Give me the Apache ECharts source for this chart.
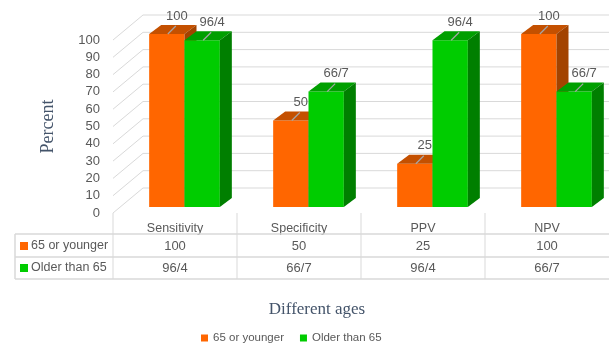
<!DOCTYPE html>
<html>
<head>
<meta charset="utf-8">
<script src="https://cdn.jsdelivr.net/npm/echarts@6/dist/echarts.min.js"></script>
<style>
  html, body { margin: 0; padding: 0; background: #fff; }
  #chart { width: 609px; height: 343px; }
</style>
</head>
<body>
<div id="chart"></div>
<script>
const categories = ['Sensitivity', 'Specificity', 'PPV', 'NPV'];
const seriesNames = ['65 or younger', 'Older than 65'];
const youngValues = [100, 50, 25, 100];
const olderValues = [96.4, 66.7, 96.4, 66.7];
const yTicks = [0, 10, 20, 30, 40, 50, 60, 70, 80, 90, 100];

const FONT = '"Liberation Sans", Arial, sans-serif';
const SERIF = '"Liberation Serif", "Times New Roman", serif';
const TEXT = '#595959';
const GRID = '#D9D9D9';

// colours: front, top, side
const palette = [
  ['#FF6600', '#C45000', '#A34300'],
  ['#00CC00', '#009F00', '#007F00']
];

// depth offsets (pixels)
const WALL_DX = 30, WALL_DY = -25;   // back wall
const BAR_DX = 9.5, BAR_DY = -6;     // bar front face relative to floor front
const DEPTH_DX = 12, DEPTH_DY = -9;  // bar depth

// persian-style decimal separator
const fmt = v => String(v).replace('.', '/');

const chart = echarts.init(document.getElementById('chart'), null, { renderer: 'canvas' });

function barRenderer(idx) {
  return function (params, api) {
    const i = api.value(0), v = api.value(1);
    const base = api.coord([i, 0]);
    const top = api.coord([i, v]);
    const band = api.size([1, 0])[0];
    const bw = band * 0.285;
    const cx = base[0] + BAR_DX;
    const x0 = cx - bw + idx * bw;
    const yb = base[1] + BAR_DY, yt = top[1] + BAR_DY;
    const c = palette[idx];
    const mid = x0 + bw / 2;
    return {
      type: 'group',
      children: [
        { type: 'rect', shape: { x: x0, y: yt, width: bw, height: yb - yt }, style: { fill: c[0] } },
        { type: 'polygon', shape: { points: [[x0, yt], [x0 + bw, yt], [x0 + bw + DEPTH_DX, yt + DEPTH_DY], [x0 + DEPTH_DX, yt + DEPTH_DY]] }, style: { fill: c[1] } },
        { type: 'polygon', shape: { points: [[x0 + bw, yt], [x0 + bw + DEPTH_DX, yt + DEPTH_DY], [x0 + bw + DEPTH_DX, yb + DEPTH_DY], [x0 + bw, yb]] }, style: { fill: c[2] } },
        { type: 'line', shape: { x1: mid + 1, y1: yt, x2: mid + 9, y2: yt - 8 }, style: { stroke: '#A6A6A6', lineWidth: 1.2 } },
        { type: 'text', x: mid + 10, y: yt - 18, style: { text: fmt(v), fill: TEXT, font: '13px ' + FONT, align: 'center', verticalAlign: 'middle' } }
      ]
    };
  };
}

function gridRenderer(params, api) {
  const cs = params.coordSys;
  const p = api.coord([0, api.value(0)]);
  const y = p[1];
  return {
    type: 'polyline',
    shape: { points: [[cs.x, y], [cs.x + WALL_DX, y + WALL_DY], [cs.x + cs.width, y + WALL_DY]] },
    style: { stroke: GRID, lineWidth: 1, fill: null }
  };
}

function tableRenderer(params, api) {
  const cs = params.coordSys;
  const i = api.value(0);
  const base = api.coord([i, 0]);
  const band = api.size([1, 0])[0];
  const left = base[0] - band / 2;
  const y0 = base[1];
  const children = [
    { type: 'line', shape: { x1: left, y1: y0, x2: left, y2: y0 + 66 }, style: { stroke: GRID, lineWidth: 1 } },
    { type: 'text', x: base[0], y: y0 + 33, style: { text: fmt(youngValues[i]), fill: TEXT, font: '13px ' + FONT, align: 'center', verticalAlign: 'middle' } },
    { type: 'text', x: base[0], y: y0 + 55, style: { text: fmt(olderValues[i]), fill: TEXT, font: '13px ' + FONT, align: 'center', verticalAlign: 'middle' } }
  ];
  if (i === 0) {
    const tl = 15;
    [21, 44, 66].forEach(dy => children.push({ type: 'line', shape: { x1: tl, y1: y0 + dy, x2: cs.x + cs.width, y2: y0 + dy }, style: { stroke: GRID, lineWidth: 1.5 } }));
    children.push({ type: 'line', shape: { x1: tl, y1: y0 + 21, x2: tl, y2: y0 + 66 }, style: { stroke: GRID, lineWidth: 1.5 } });
    seriesNames.forEach((name, k) => {
      const yy = y0 + 33 + k * 22;
      children.push({ type: 'rect', shape: { x: 20, y: yy - 4, width: 8, height: 8 }, style: { fill: palette[k][0] } });
      children.push({ type: 'text', x: 31, y: yy, style: { text: name, fill: TEXT, font: '12.5px ' + FONT, align: 'left', verticalAlign: 'middle' } });
    });
  }
  return { type: 'group', children };
}

const option = {
  backgroundColor: '#fff',
  animation: false,
  grid: { left: 113, right: -2, top: 40, bottom: 130, containLabel: false },
  xAxis: {
    type: 'category',
    data: categories,
    axisLine: { show: false },
    axisTick: { show: false },
    splitLine: { show: false },
    axisLabel: { color: TEXT, fontSize: 12.5, fontFamily: FONT, margin: 9 }
  },
  yAxis: {
    type: 'value',
    min: 0,
    max: 100,
    interval: 10,
    name: 'Percent',
    nameLocation: 'middle',
    nameRotate: 90,
    nameGap: 56,
    nameTextStyle: { color: '#44546A', fontSize: 18, fontFamily: SERIF },
    axisLine: { show: false },
    axisTick: { show: false },
    splitLine: { show: false },
    axisLabel: { color: TEXT, fontSize: 13, fontFamily: FONT, margin: 13 }
  },
  title: {
    text: 'Different ages',
    left: 312,
    top: 296,
    textAlign: 'center',
    textStyle: { color: '#44546A', fontSize: 17, fontWeight: 'normal', fontFamily: SERIF }
  },
  legend: {
    left: 196,
    top: 327,
    icon: 'rect',
    itemWidth: 7,
    itemHeight: 7,
    itemGap: 16,
    textStyle: { color: TEXT, fontSize: 11.5, fontFamily: FONT },
    data: seriesNames
  },
  series: [
    {
      type: 'custom',
      name: 'grid',
      clip: false,
      silent: true,
      data: yTicks.map(v => [v]),
      encode: { y: 0 },
      renderItem: gridRenderer
    },
    {
      type: 'custom',
      name: 'table',
      clip: false,
      silent: true,
      data: categories.map((c, i) => [i]),
      encode: { x: 0 },
      renderItem: tableRenderer
    },
    {
      type: 'custom',
      name: seriesNames[0],
      clip: false,
      itemStyle: { color: palette[0][0] },
      data: youngValues.map((v, i) => [i, v]),
      encode: { x: 0, y: 1 },
      renderItem: barRenderer(0)
    },
    {
      type: 'custom',
      name: seriesNames[1],
      clip: false,
      itemStyle: { color: palette[1][0] },
      data: olderValues.map((v, i) => [i, v]),
      encode: { x: 0, y: 1 },
      renderItem: barRenderer(1)
    }
  ]
};

chart.setOption(option);
</script>
</body>
</html>
